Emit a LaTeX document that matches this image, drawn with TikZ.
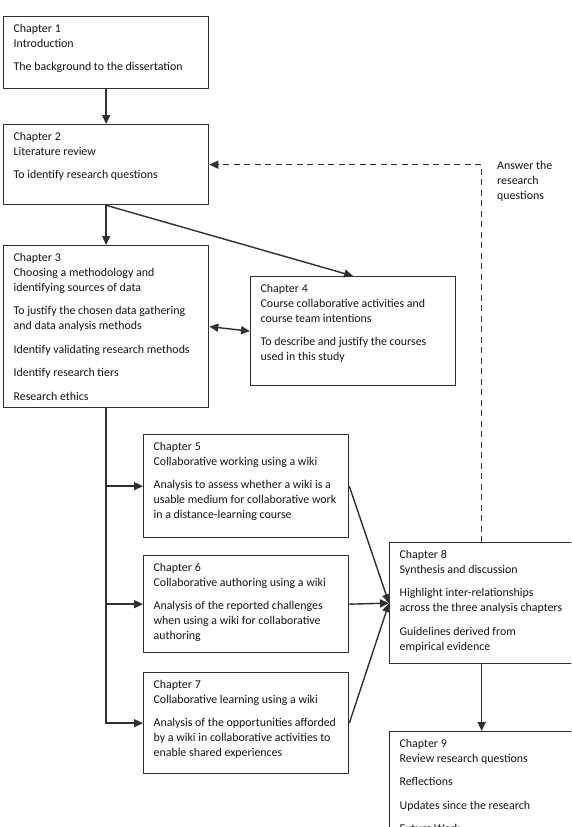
\documentclass[tikz,border=0pt]{standalone}
\usepackage{fontspec}
\setmainfont{Carlito}
\usetikzlibrary{arrows.meta}
\definecolor{boxline}{HTML}{303030}
\definecolor{inktext}{HTML}{141414}

\begin{document}
\begin{tikzpicture}[
    x=1pt, y=-1pt,
    font=\fontsize{11.9}{15}\selectfont,
    >={Triangle[length=9pt, width=8pt]},
    chapter/.style 2 args={draw=boxline, line width=1.3pt, anchor=north west, inner sep=0pt, text=inktext,
        execute at begin node={\begin{minipage}[c][#2pt][t]{#1pt}\raggedright\leftskip=10pt\rule{0pt}{15.5pt}},
        execute at end node={\end{minipage}}},
    link/.style={draw=boxline, line width=1.4pt, ->},
    feedback/.style={link, dash pattern=on 6pt off 4.5pt},
    note/.style={anchor=north west, inner sep=0pt, align=left, text=inktext},
]
    \useasboundingbox (0,0) rectangle (571,827);
    \clip (0,0) rectangle (571,827);

    % main line of chapters
    \node[chapter={205}{72}] (ch1) at (3,16)
        {Chapter 1\\Introduction\\[8.5pt]The background to the dissertation};
    \node[chapter={205}{80}] (ch2) at (3,124)
        {Chapter 2\\Literature review\\[8.5pt]To identify research questions};
    \node[chapter={205}{162}] (ch3) at (3,245)
        {Chapter 3\\Choosing a methodology and\\identifying sources of data\\[8.5pt]%
         To justify the chosen data gathering\\and data analysis methods\\[8.5pt]%
         Identify validating research methods\\[8.5pt]Identify research tiers\\[8.5pt]Research ethics};
    \node[chapter={205}{109}] (ch4) at (250,276)
        {Chapter 4\\Course collaborative activities and\\course team intentions\\[8.5pt]%
         To describe and justify the courses\\used in this study};

    % the three analysis chapters
    \node[chapter={205}{103}] (ch5) at (143,434)
        {Chapter 5\\Collaborative working using a wiki\\[8.5pt]%
         Analysis to assess whether a wiki is a\\usable medium for collaborative work\\in a distance-learning course};
    \node[chapter={205}{97}] (ch6) at (143,555)
        {Chapter 6\\Collaborative authoring using a wiki\\[8.5pt]%
         Analysis of the reported challenges\\when using a wiki for collaborative\\authoring};
    \node[chapter={205}{101}] (ch7) at (143,672)
        {Chapter 7\\Collaborative learning using a wiki\\[8.5pt]%
         Analysis of the opportunities afforded\\by a wiki in collaborative activities to\\enable shared experiences};

    % synthesis and review
    \node[chapter={184}{121}] (ch8) at (389,542)
        {Chapter 8\\Synthesis and discussion\\[8.5pt]%
         Highlight inter-relationships\\across the three analysis chapters\\[8.5pt]%
         Guidelines derived from\\empirical evidence};
    \node[chapter={184}{130}] (ch9) at (389,731)
        {Chapter 9\\Review research questions\\[8.5pt]Reflections\\[8.5pt]%
         Updates since the research\\[8.5pt]Future Work};

    \node[note] (answer) at (497,161) {Answer the\\research\\questions};

    % connectors
    \draw[link] (ch1.south) -- (ch2.north);
    \draw[link] (ch2.south) -- (ch3.north);
    \draw[link] (ch2.south) -- (ch4.north);
    \draw[link, <->] (ch3.east) -- (ch4.west);

    \draw[link] (ch3.south) |- (ch7.west);
    \draw[link] (ch3.south |- ch5.west) -- (ch5.west);
    \draw[link] (ch3.south |- ch6.west) -- (ch6.west);

    \draw[link] (ch5.east) -- (ch8.west);
    \draw[link] (ch6.east) -- (ch8.west);
    \draw[link] (ch7.east) -- (ch8.west);

    \draw[link] (ch8.south) -- (ch9.north);
    \draw[feedback] (ch8.north) |- (ch2.east);
\end{tikzpicture}
\end{document}
